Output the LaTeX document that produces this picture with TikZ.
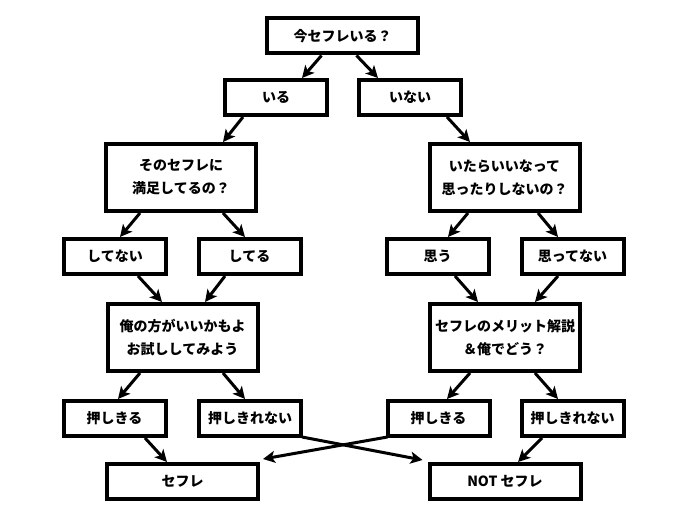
\documentclass[tikz,border=0pt]{standalone}
\usepackage{fontspec}
\setmainfont{Noto Sans CJK JP}
\usetikzlibrary{arrows.meta}
\tikzset{
  box/.style={draw=black, fill=white, line width=4pt, outer sep=2pt, inner sep=0pt,
    align=center, font=\fontsize{14pt}{23pt}\selectfont\bfseries},
  small/.style={box, minimum width=102pt, minimum height=35pt},
  big/.style={box, minimum width=150pt, minimum height=67pt},
  arr/.style={line width=3pt, -{Stealth[length=12pt,width=12pt,inset=3pt]}},
}
\begin{document}
\begin{tikzpicture}[x=1pt,y=-1pt]
\useasboundingbox (0,0) rectangle (689,521);
% nodes
\node[small, minimum width=151pt] (top) at (342.5,36) {今セフレいる？};
\node[small] (iru) at (276,97.5) {いる};
\node[small] (inai) at (410,97.5) {いない};
\node[big] (sono) at (181,177.5) {そのセフレに\\満足してるの？};
\node[big] (itara) at (504.5,177.5) {いたらいいなって\\思ったりしないの？};
\node[small] (shitenai) at (115,256.5) {してない};
\node[small] (shiteru) at (249.5,256.5) {してる};
\node[small] (omou) at (437.5,256.5) {思う};
\node[small] (omottenai) at (572.5,256.5) {思ってない};
\node[big] (ore) at (182.5,337.5) {俺の方がいいかもよ\\お試ししてみよう};
\node[big] (merit) at (505,337.5) {セフレのメリット解説\\＆俺でどう？};
\node[small] (oshiL) at (114.5,418.5) {押しきる};
\node[small] (oshinL) at (250,418.5) {押しきれない};
\node[small] (oshiR) at (438.5,418.5) {押しきる};
\node[small] (oshinR) at (572.5,418.5) {押しきれない};
\node[small, minimum width=151pt] (sefure) at (182.5,481.5) {セフレ};
\node[small, minimum width=151pt] (notsf) at (505,481.5) {NOT セフレ};
% arrows
\draw[arr] ([xshift=-21pt]top.south) -- ([xshift=26pt]iru.north);
\draw[arr] ([xshift=14pt]top.south) -- ([xshift=-32pt]inai.north);
\draw[arr] ([xshift=-33pt]iru.south) -- ([xshift=42pt]sono.north);
\draw[arr] ([xshift=37pt]inai.south) -- ([xshift=-34.5pt]itara.north);
\draw[arr] ([xshift=-41pt]sono.south) -- ([xshift=5pt]shitenai.north);
\draw[arr] ([xshift=42pt]sono.south) -- ([xshift=-4.5pt]shiteru.north);
\draw[arr] ([xshift=-36.5pt]itara.south) -- ([xshift=10.5pt]omou.north);
\draw[arr] ([xshift=33.5pt]itara.south) -- ([xshift=-14.5pt]omottenai.north);
\draw[arr] ([xshift=23pt]shitenai.south) -- ([xshift=-20.5pt]ore.north);
\draw[arr] ([xshift=-24.5pt]shiteru.south) -- ([xshift=22.5pt]ore.north);
\draw[arr] ([xshift=17.5pt]omou.south) -- ([xshift=-27pt]merit.north);
\draw[arr] ([xshift=-14.5pt]omottenai.south) -- ([xshift=30pt]merit.north);
\draw[arr] ([xshift=-42.5pt]ore.south) -- ([xshift=3.5pt]oshiL.north);
\draw[arr] ([xshift=40.5pt]ore.south) -- ([xshift=-5pt]oshinL.north);
\draw[arr] ([xshift=-35pt]merit.south) -- ([xshift=8.5pt]oshiR.north);
\draw[arr] ([xshift=30pt]merit.south) -- ([xshift=-14.5pt]oshinR.north);
\draw[arr] ([xshift=30.5pt]oshiL.south) -- ([xshift=-15.5pt]sefure.north);
\draw[arr] ([xshift=-30.5pt]oshinR.south) -- ([xshift=13pt]notsf.north);
\draw[arr] ([xshift=-1pt,yshift=1pt]oshinL.south east) -- ([xshift=-5pt,yshift=2pt]notsf.north west);
\draw[arr] ([xshift=2pt,yshift=1pt]oshiR.south west) -- ([xshift=3pt,yshift=3pt]sefure.north east);
\end{tikzpicture}
\end{document}
